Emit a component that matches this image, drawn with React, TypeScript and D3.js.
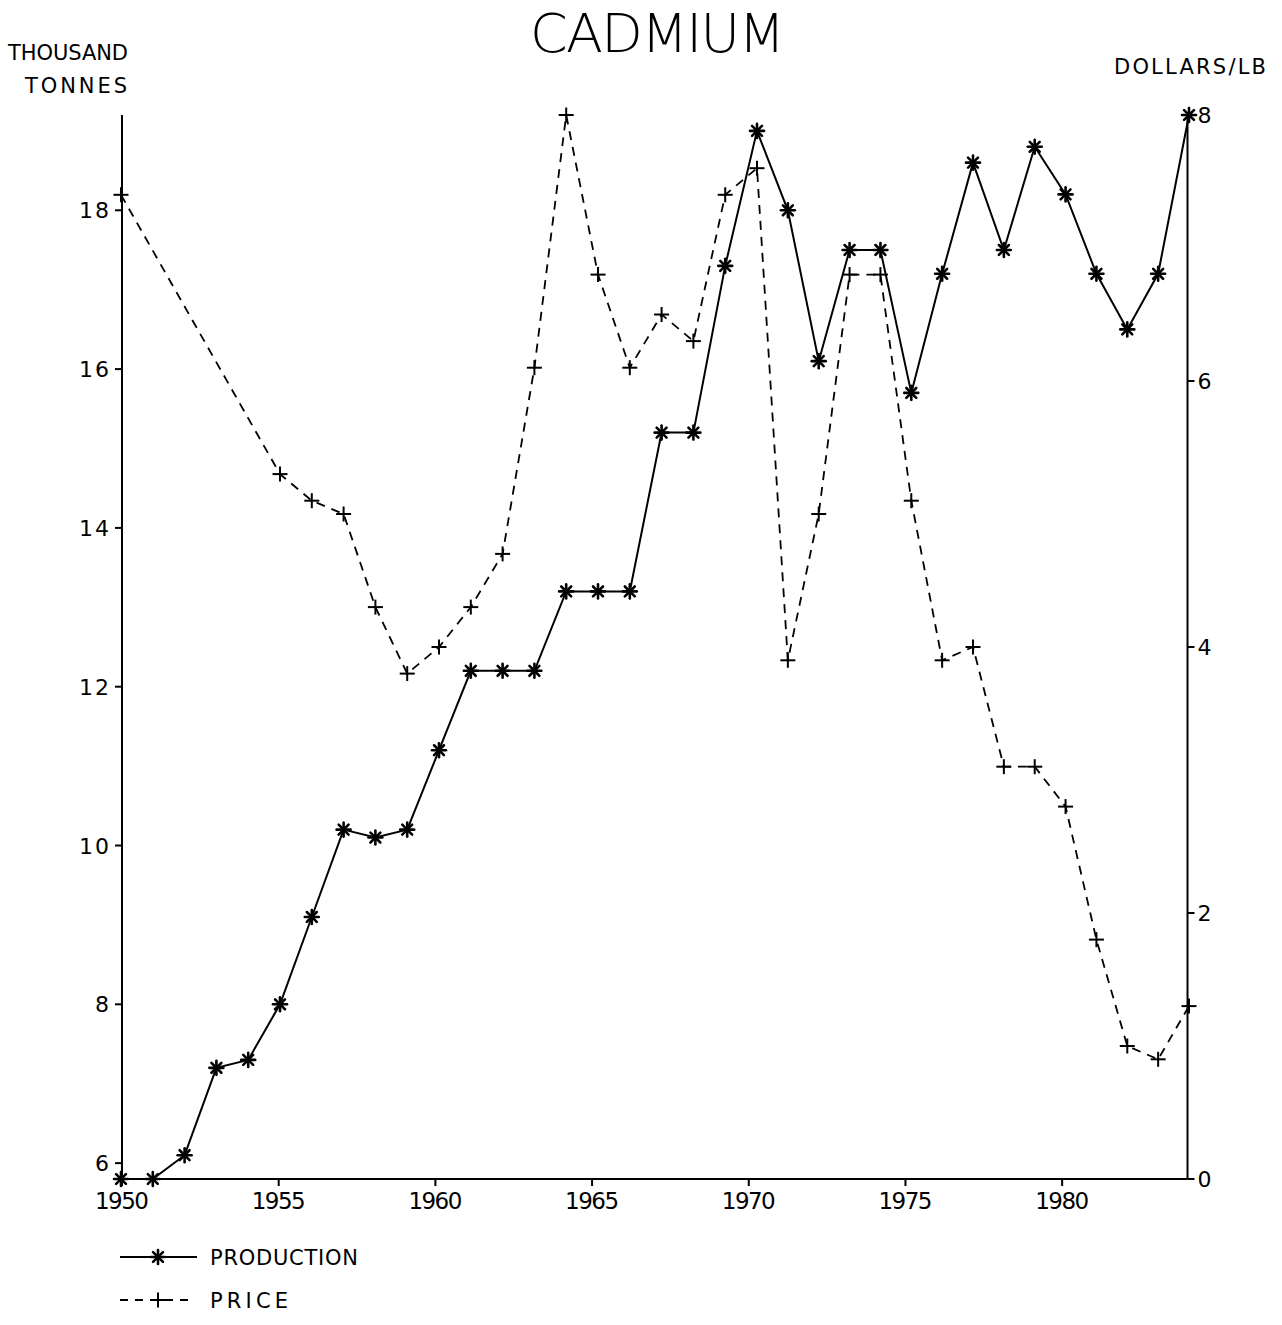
import React from "react";
import * as d3 from "d3";

const prodYears = [1950,1951,1952,1953,1954,1955,1956,1957,1958,1959,1960,1961,1962,1963,1964,1965,1966,1967,1968,1969,1970,1971,1972,1973,1974,1975,1976,1977,1978,1979,1980,1981,1982,1983,1984];
const production = [5.8,5.8,6.1,7.2,7.3,8.0,9.1,10.2,10.1,10.2,11.2,12.2,12.2,12.2,13.2,13.2,13.2,15.2,15.2,17.3,19.0,18.0,16.1,17.5,17.5,15.7,17.2,18.6,17.5,18.8,18.2,17.2,16.5,17.2,19.2];
const priceYears = [1950,1955,1956,1957,1958,1959,1960,1961,1962,1963,1964,1965,1966,1967,1968,1969,1970,1971,1972,1973,1974,1975,1976,1977,1978,1979,1980,1981,1982,1983,1984];
const price = [7.4,5.3,5.1,5.0,4.3,3.8,4.0,4.3,4.7,6.1,8.0,6.8,6.1,6.5,6.3,7.4,7.6,3.9,5.0,6.8,6.8,5.1,3.9,4.0,3.1,3.1,2.8,1.8,1.0,0.9,1.3];
const xTicks = [1950,1955,1960,1965,1970,1975,1980];
const leftTicks = [6,8,10,12,14,16,18];
const rightTicks = [0,2,4,6,8];

const FONT = "'DejaVu Sans', sans-serif";

function Star({ cx, cy, r = 7 }: { cx: number; cy: number; r?: number }) {
  const d = r * Math.SQRT1_2;
  return (
    <g stroke="#000" strokeWidth={2.6} strokeLinecap="round">
      <line x1={cx - r} y1={cy} x2={cx + r} y2={cy} />
      <line x1={cx} y1={cy - r} x2={cx} y2={cy + r} />
      <line x1={cx - d} y1={cy - d} x2={cx + d} y2={cy + d} />
      <line x1={cx - d} y1={cy + d} x2={cx + d} y2={cy - d} />
    </g>
  );
}

function Plus({ cx, cy, r = 7.5 }: { cx: number; cy: number; r?: number }) {
  return (
    <g stroke="#000" strokeWidth={2}>
      <line x1={cx - r} y1={cy} x2={cx + r} y2={cy} />
      <line x1={cx} y1={cy - r} x2={cx} y2={cy + r} />
    </g>
  );
}

export default function App() {
  // axis scale (ticks)
  const x = d3.scaleLinear().domain([1950, 1984]).range([122, 1187.5]);
  // data scale (the original plot's marks sit slightly right of the ticks mid-chart)
  const xd = d3.scaleLinear().domain([1950, 1970, 1984]).range([121, 757, 1189]);
  const yL = d3.scaleLinear().domain([5.8, 19.2]).range([1179, 115]);
  const yR = d3.scaleLinear().domain([0, 8]).range([1179, 115]);

  const prodLine = d3.line<number>().x((_, i) => xd(prodYears[i])).y((v) => yL(v))(production) || "";
  const priceLine = d3.line<number>().x((_, i) => xd(priceYears[i])).y((v) => yR(v))(price) || "";

  const x0 = x(1950), x1 = x(1984), yb = yL(5.8), yt = yR(8);

  return (
    <svg width={1282} height={1325} style={{ display: "block", position: "absolute", left: 0, top: 0, background: "#fff" }}>
      <rect width={1282} height={1325} fill="#fff" />
      <text x={530} y={52} fontFamily={FONT} fontWeight={200} fontSize={54} textLength={255} lengthAdjust="spacing" fill="#000">CADMIUM</text>
      <text x={8} y={60} fontFamily={FONT} fontSize={21} textLength={120} lengthAdjust="spacing" fill="#000">THOUSAND</text>
      <text x={25} y={93} fontFamily={FONT} fontSize={21} textLength={102} lengthAdjust="spacing" fill="#000">TONNES</text>
      <text x={1114} y={74} fontFamily={FONT} fontSize={21} textLength={152} lengthAdjust="spacing" fill="#000">DOLLARS/LB</text>

      {/* axes */}
      <g stroke="#000" strokeWidth={2} fill="none">
        <line x1={x0} y1={yb} x2={x1} y2={yb} />
        <line x1={x0} y1={yb} x2={x0} y2={yt} />
        <line x1={x1} y1={yb} x2={x1} y2={yt} />
        {xTicks.map((t) => (
          <line key={"xt" + t} x1={x(t)} y1={yb} x2={x(t)} y2={yb + 7} />
        ))}
        {leftTicks.map((t) => (
          <line key={"lt" + t} x1={x0} y1={yL(t)} x2={x0 - 7} y2={yL(t)} />
        ))}
        {rightTicks.map((t) => (
          <line key={"rt" + t} x1={x1} y1={yR(t)} x2={x1 + 7} y2={yR(t)} />
        ))}
      </g>
      {xTicks.map((t) => (
        <text key={"xl" + t} x={x(t) - 27} y={yb + 30} fontFamily={FONT} fontSize={23} textLength={54} lengthAdjust="spacing" fill="#000">{t}</text>
      ))}
      {leftTicks.map((t) => (
        <text key={"ll" + t} x={x0 - 11} y={yL(t) + 8} textAnchor="end" fontFamily={FONT} fontSize={22} letterSpacing={2} fill="#000">{t}</text>
      ))}
      {rightTicks.map((t) => (
        <text key={"rl" + t} x={x1 + 10} y={yR(t) + 8} textAnchor="start" fontFamily={FONT} fontSize={22} fill="#000">{t}</text>
      ))}

      {/* series */}
      <path d={priceLine} fill="none" stroke="#000" strokeWidth={1.8} strokeDasharray="9,7" />
      <path d={prodLine} fill="none" stroke="#000" strokeWidth={2} />
      {price.map((v, i) => (
        <Plus key={"p" + i} cx={xd(priceYears[i])} cy={yR(v)} />
      ))}
      {production.map((v, i) => (
        <Star key={"s" + i} cx={xd(prodYears[i])} cy={yL(v)} />
      ))}

      {/* legend */}
      <line x1={120} y1={1257} x2={197} y2={1257} stroke="#000" strokeWidth={2} />
      <Star cx={158} cy={1257} />
      <text x={210} y={1265} fontFamily={FONT} fontSize={21} textLength={148} lengthAdjust="spacing" fill="#000">PRODUCTION</text>
      <line x1={120} y1={1300} x2={195} y2={1300} stroke="#000" strokeWidth={1.8} strokeDasharray="8,7" />
      <Plus cx={158} cy={1300} />
      <text x={210} y={1308} fontFamily={FONT} fontSize={21} textLength={78} lengthAdjust="spacing" fill="#000">PRICE</text>
    </svg>
  );
}
